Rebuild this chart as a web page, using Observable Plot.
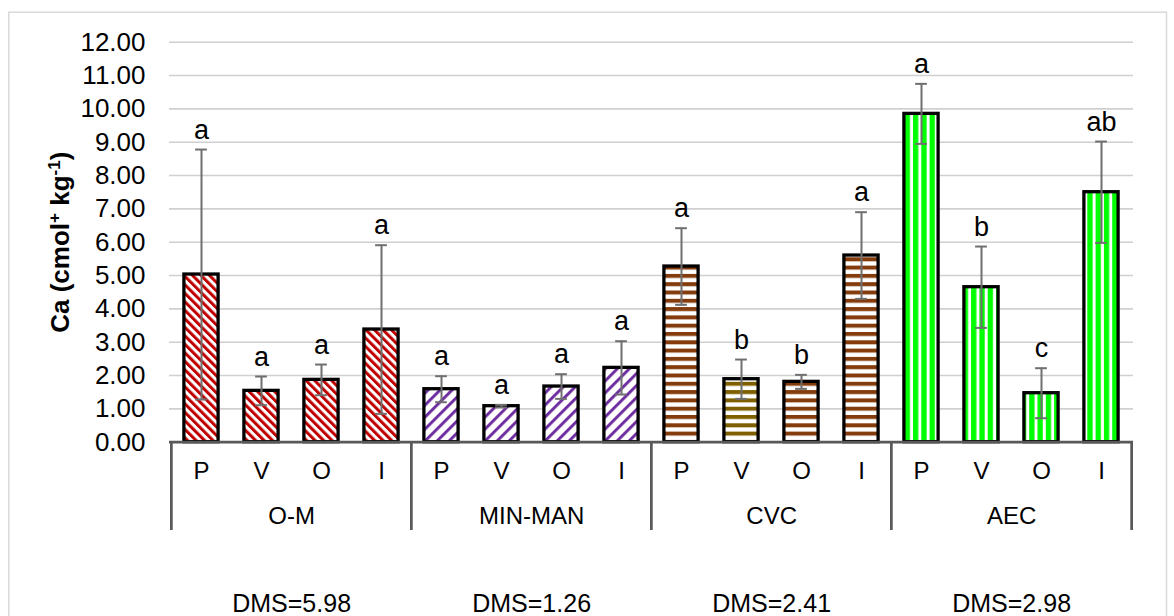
<!DOCTYPE html>
<html><head><meta charset="utf-8">
<script src="https://cdn.jsdelivr.net/npm/d3@7"></script>
<script src="https://cdn.jsdelivr.net/npm/@observablehq/plot@0.6"></script>
<style>html,body{margin:0;padding:0;background:#fff;} svg{display:block;}</style>
</head><body><div id="chart"></div>
<script>
// ---- data ----
const groups = ["O-M", "MIN-MAN", "CVC", "AEC"];
const treatments = ["P", "V", "O", "I"];
const means = [
  [5.03, 1.54, 1.87, 3.38],
  [1.59, 1.08, 1.67, 2.23],
  [5.27, 1.89, 1.81, 5.60],
  [9.85, 4.65, 1.47, 7.50]
];
const errors = [
  [3.75, 0.43, 0.46, 2.53],
  [0.39, 0.04, 0.37, 0.80],
  [1.15, 0.59, 0.21, 1.30],
  [0.90, 1.22, 0.75, 1.52]
];
const letters = [
  ["a", "a", "a", "a"],
  ["a", "a", "a", "a"],
  ["a", "b", "b", "a"],
  ["a", "b", "c", "ab"]
];
const dmsLabels = ["DMS=5.98", "DMS=1.26", "DMS=2.41", "DMS=2.98"];
const yTicks = [0, 1, 2, 3, 4, 5, 6, 7, 8, 9, 10, 11, 12];
const yLabel = "Ca (cmol+ kg-1)";

// ---- table built from arrays ----
const rows = [];
groups.forEach((g, gi) => treatments.forEach((t, ti) => rows.push({
  key: g + "|" + t, group: g, gi, ti, t,
  value: means[gi][ti], err: errors[gi][ti], letter: letters[gi][ti]
})));
const keys = rows.map(d => d.key);

// pattern per bar
const patternOf = d => d.gi === 0 ? "pat-om" : d.gi === 1 ? "pat-mm" : d.gi === 2 ? (d.ti === 1 ? "pat-cvcv" : "pat-cvc") : "pat-aec";
const patternIds = ["pat-om", "pat-mm", "pat-cvc", "pat-cvcv", "pat-aec"];

const W = 1174, H = 616;
const mL = 169, mR = 41, mT = 41.7, mB = 616 - 441.7;
const band = (W - mL - mR) / keys.length;
const barInset = 12.9;
const capInset = (band - 12) / 2;
const FONT = "'Liberation Sans', Arial, Helvetica, sans-serif";

const marks = [
  Plot.frame({stroke: "#d9d9d9", strokeWidth: 1.5, insetLeft: -(mL - 8.3), insetTop: -(mT - 11.7), insetRight: -33, insetBottom: -200}),
  Plot.ruleY(yTicks.filter(v => v > 0), {y: d => d, stroke: "#d0d0d0", strokeWidth: 1.6})
];
for (const id of patternIds) {
  marks.push(Plot.barY(rows.filter(d => patternOf(d) === id), {
    x: "key", y: "value", fill: `url(#${id})`, stroke: "#000", strokeWidth: 3.3,
    insetLeft: barInset, insetRight: barInset
  }));
}
marks.push(
  Plot.ruleX(rows, {x: "key", y1: d => d.value - d.err, y2: d => d.value + d.err, stroke: "#6f6f6f", strokeWidth: 2}),
  Plot.tickY(rows, {x: "key", y: d => d.value + d.err, stroke: "#6f6f6f", strokeWidth: 2, insetLeft: capInset, insetRight: capInset}),
  Plot.tickY(rows, {x: "key", y: d => d.value - d.err, stroke: "#6f6f6f", strokeWidth: 2, insetLeft: capInset, insetRight: capInset}),
  Plot.ruleY([0], {stroke: "#595959", strokeWidth: 2.7}),
  Plot.ruleX(groups.map(g => g + "|P"), {x: d => d, dx: -band / 2, stroke: "#595959", strokeWidth: 2.7, insetTop: H - mT - mB, insetBottom: -88.3}),
  Plot.ruleX([groups[groups.length - 1] + "|I"], {x: d => d, dx: band / 2, stroke: "#595959", strokeWidth: 2.7, insetTop: H - mT - mB, insetBottom: -88.3}),
  Plot.axisY({ticks: yTicks, tickFormat: d3.format(".2f"), tickSize: 0, tickPadding: 24, fontSize: 26, label: null}),
  Plot.axisX({tickFormat: d => d.split("|")[1], tickSize: 0, tickPadding: 20, fontSize: 24, label: null}),
  Plot.text(rows, {x: "key", y: d => d.value + d.err, text: "letter", lineAnchor: "bottom", dy: -11, fontSize: 27}),
  Plot.text(groups, {x: g => g + "|V", dx: band / 2, frameAnchor: "bottom", textAnchor: "middle", lineAnchor: "bottom", dy: 81.6, text: d => d, fontSize: 24}),
  Plot.text(dmsLabels, {x: (d, i) => groups[i] + "|V", dx: band / 2, frameAnchor: "bottom", textAnchor: "middle", lineAnchor: "bottom", dy: 169.5, text: d => d, fontSize: 25}),
  Plot.text([yLabel], {frameAnchor: "left", dx: -101, rotate: -90, textAnchor: "middle", lineAnchor: "bottom", text: d => d, fontSize: 26, fontWeight: "bold"})
);

const chart = Plot.plot({
  width: W, height: H,
  marginLeft: mL, marginRight: mR, marginTop: mT, marginBottom: mB,
  style: {fontFamily: FONT, background: "#fff", color: "#000", overflow: "visible"},
  x: {domain: keys, padding: 0},
  y: {domain: [0, 12]},
  marks
});

// pattern definitions
const svg = d3.select(chart.tagName.toLowerCase() === "svg" ? chart : chart.querySelector("svg"));
const defs = svg.insert("defs", ":first-child");
function diag(id, color, period, stripe, angle) {
  const p = defs.append("pattern").attr("id", id).attr("patternUnits", "userSpaceOnUse")
    .attr("width", period).attr("height", 10).attr("patternTransform", `rotate(${angle})`);
  p.append("rect").attr("width", period).attr("height", 10).attr("fill", "#fff");
  p.append("rect").attr("width", stripe).attr("height", 10).attr("fill", color);
}
function horiz(id, color, period, stripe) {
  const p = defs.append("pattern").attr("id", id).attr("patternUnits", "userSpaceOnUse")
    .attr("width", 10).attr("height", period);
  p.append("rect").attr("width", 10).attr("height", period).attr("fill", "#fff");
  p.append("rect").attr("width", 10).attr("height", stripe).attr("fill", color);
}
function vert(id, color, period, stripe) {
  const p = defs.append("pattern").attr("id", id).attr("patternUnits", "userSpaceOnUse")
    .attr("width", period).attr("height", 10);
  p.append("rect").attr("width", period).attr("height", 10).attr("fill", "#fff");
  p.append("rect").attr("width", stripe).attr("height", 10).attr("fill", color);
}
diag("pat-om", "#C00000", 8.5 / Math.SQRT2, 3.0, -45);
diag("pat-mm", "#7030A0", 12 / Math.SQRT2, 3.0, 45);
horiz("pat-cvc", "#843C0C", 8.3, 4);
horiz("pat-cvcv", "#7F6000", 8.3, 4);
vert("pat-aec", "#00FF00", 8.3, 5.3);

// superscripts in y label
svg.selectAll("text").filter(function () { return this.textContent === yLabel; }).each(function () {
  const t = d3.select(this);
  t.text(null);
  t.append("tspan").text("Ca (cmol");
  t.append("tspan").attr("dy", -9).attr("font-size", "17px").text("+");
  t.append("tspan").attr("dy", 9).text(" kg");
  t.append("tspan").attr("dy", -9).attr("font-size", "17px").text("-1");
  t.append("tspan").attr("dy", 9).text(")");
});

document.getElementById("chart").appendChild(chart);
</script>
</body></html>
